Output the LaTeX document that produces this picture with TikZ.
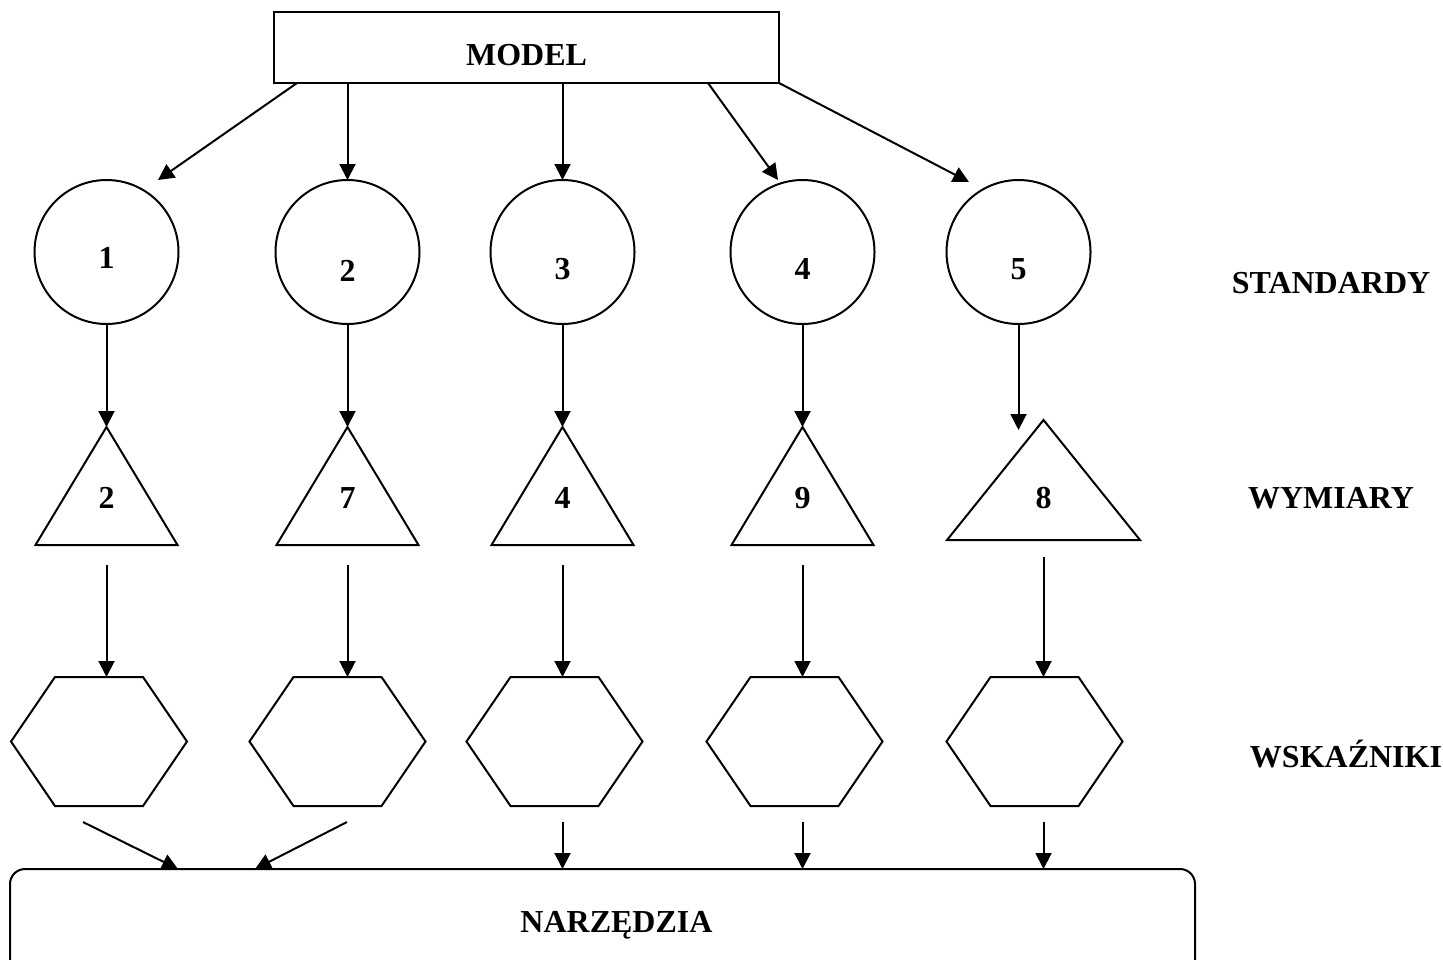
\documentclass[tikz,border=0pt]{standalone}
\usepackage{fontspec}
\setmainfont{Liberation Serif}
\usetikzlibrary{positioning}
\usetikzlibrary{shapes.geometric}
\usetikzlibrary{arrows.meta}
\tikzset{model/.style={rectangle, draw, minimum width=252.5pt, minimum height=35.5pt,
inner sep=0pt, text height=18.2pt, text depth=0pt},
standard/.style={circle, draw, minimum size=72pt, inner sep=0pt, text height=27.3pt, text depth=0pt},
dimension/.style={rectangle, inner sep=0pt, minimum width=71pt, minimum height=59pt,
text height=22.8pt, text depth=0pt},
indicator/.style={regular polygon, regular polygon sides=6, draw, minimum size=88pt,
inner sep=0pt, yscale=0.8465},
tools/.style={rectangle, draw, rounded corners=7.5pt, minimum width=592.5pt,
minimum height=53pt, inner sep=0pt, text depth=0pt},
level/.style={anchor=base},
>={Triangle[length=8pt,width=8pt]}}

\begin{document}
\begin{tikzpicture}[x=0.5pt, y=-0.5pt, line width=1pt, outer sep=0pt,
    font=\fontsize{16}{19}\selectfont\bfseries]
    \useasboundingbox (0,0) rectangle (1443,959);

    \node (model) [model] at (526.5,47.5) {MODEL};

    \node (s1) [standard, text height=16.3pt] at (106.5,252) {1};
    \node (s2) [standard, right = 48.5pt of s1, text height=29.3pt] {2};
    \node (s3) [standard, right = 35.5pt of s2] {3};
    \node (s4) [standard, right = 48pt of s3] {4};
    \node (s5) [standard, right = 36pt of s4] {5};

    \node (d1) [dimension, below = 51.5pt of s1] {2};
    \node (d2) [dimension, below = 51.5pt of s2] {7};
    \node (d3) [dimension, below = 51.5pt of s3] {4};
    \node (d4) [dimension, below = 51.5pt of s4] {9};
    \node (d5) [dimension, below = 48pt of s5, xshift=12.5pt, minimum width=96.5pt,
      minimum height=60pt, text height=28pt] {8};
    \draw (d1.south west) -- (d1.north) -- (d1.south east) -- cycle;
    \draw (d2.south west) -- (d2.north) -- (d2.south east) -- cycle;
    \draw (d3.south west) -- (d3.north) -- (d3.south east) -- cycle;
    \draw (d4.south west) -- (d4.north) -- (d4.south east) -- cycle;
    \draw (d5.south west) -- (d5.north) -- (d5.south east) -- cycle;

    \node (i1) [indicator] at (99,741.5) {};
    \node (i2) [indicator] at (337.5,741.5) {};
    \node (i3) [indicator] at (554.5,741.5) {};
    \node (i4) [indicator] at (794.5,741.5) {};
    \node (i5) [indicator] at (1034.5,741.5) {};

    \node (tools) [tools] at (602.5,922) {\hspace*{14pt}NARZĘDZIA};

    \node (standardy) [level] at (1331,293) {STANDARDY};
    \node (wymiary) [level] at (1331,508) {WYMIARY};
    \node (wskazniki) [level] at (1346,767) {WSKAŹNIKI};

    \draw [->] ([xshift=11.5pt]model.south west) -- ([xshift=25.75pt,yshift=36pt]s1.center);
    \draw [->] (model.south -| s2) -- (s2);
    \draw [->] (model.south -| s3) -- (s3);
    \draw [->] ([xshift=-35.5pt]model.south east) -- ([xshift=-12.25pt,yshift=36pt]s4.center);
    \draw [->] (model.south east) -- ([xshift=-24.75pt,yshift=35pt]s5.center);

    \draw [->] (s1) -- (d1.north);
    \draw [->] (s2) -- (d2.north);
    \draw [->] (s3) -- (d3.north);
    \draw [->] (s4) -- (d4.north);
    \draw [->] (s5) -- ([yshift=-5pt]s5 |- d5.north);

    \draw [->, shorten <=10pt] (d1.south) -- (d1.south |- i1.north);
    \draw [->, shorten <=10pt] (d2.south) -- (d2.south |- i2.north);
    \draw [->, shorten <=10pt] (d3.south) -- (d3.south |- i3.north);
    \draw [->, shorten <=10pt] (d4.south) -- (d4.south |- i4.north);
    \draw [->, shorten <=8.5pt] (d5.south) -- (d5.south |- i5.north);

    \draw [->] ([xshift=-8pt,yshift=-8pt]i1.south) -- ([xshift=84pt]tools.north west);
    \draw [->] ([xshift=4.75pt,yshift=-8pt]i2.south) -- ([xshift=122.5pt]tools.north west);
    \draw [->, shorten <=8pt] (d3.south |- i3.south) -- (d3.south |- tools.north);
    \draw [->, shorten <=8pt] (d4.south |- i4.south) -- (d4.south |- tools.north);
    \draw [->, shorten <=8pt] (d5.south |- i5.south) -- (d5.south |- tools.north);

  \end{tikzpicture}
\end{document}
